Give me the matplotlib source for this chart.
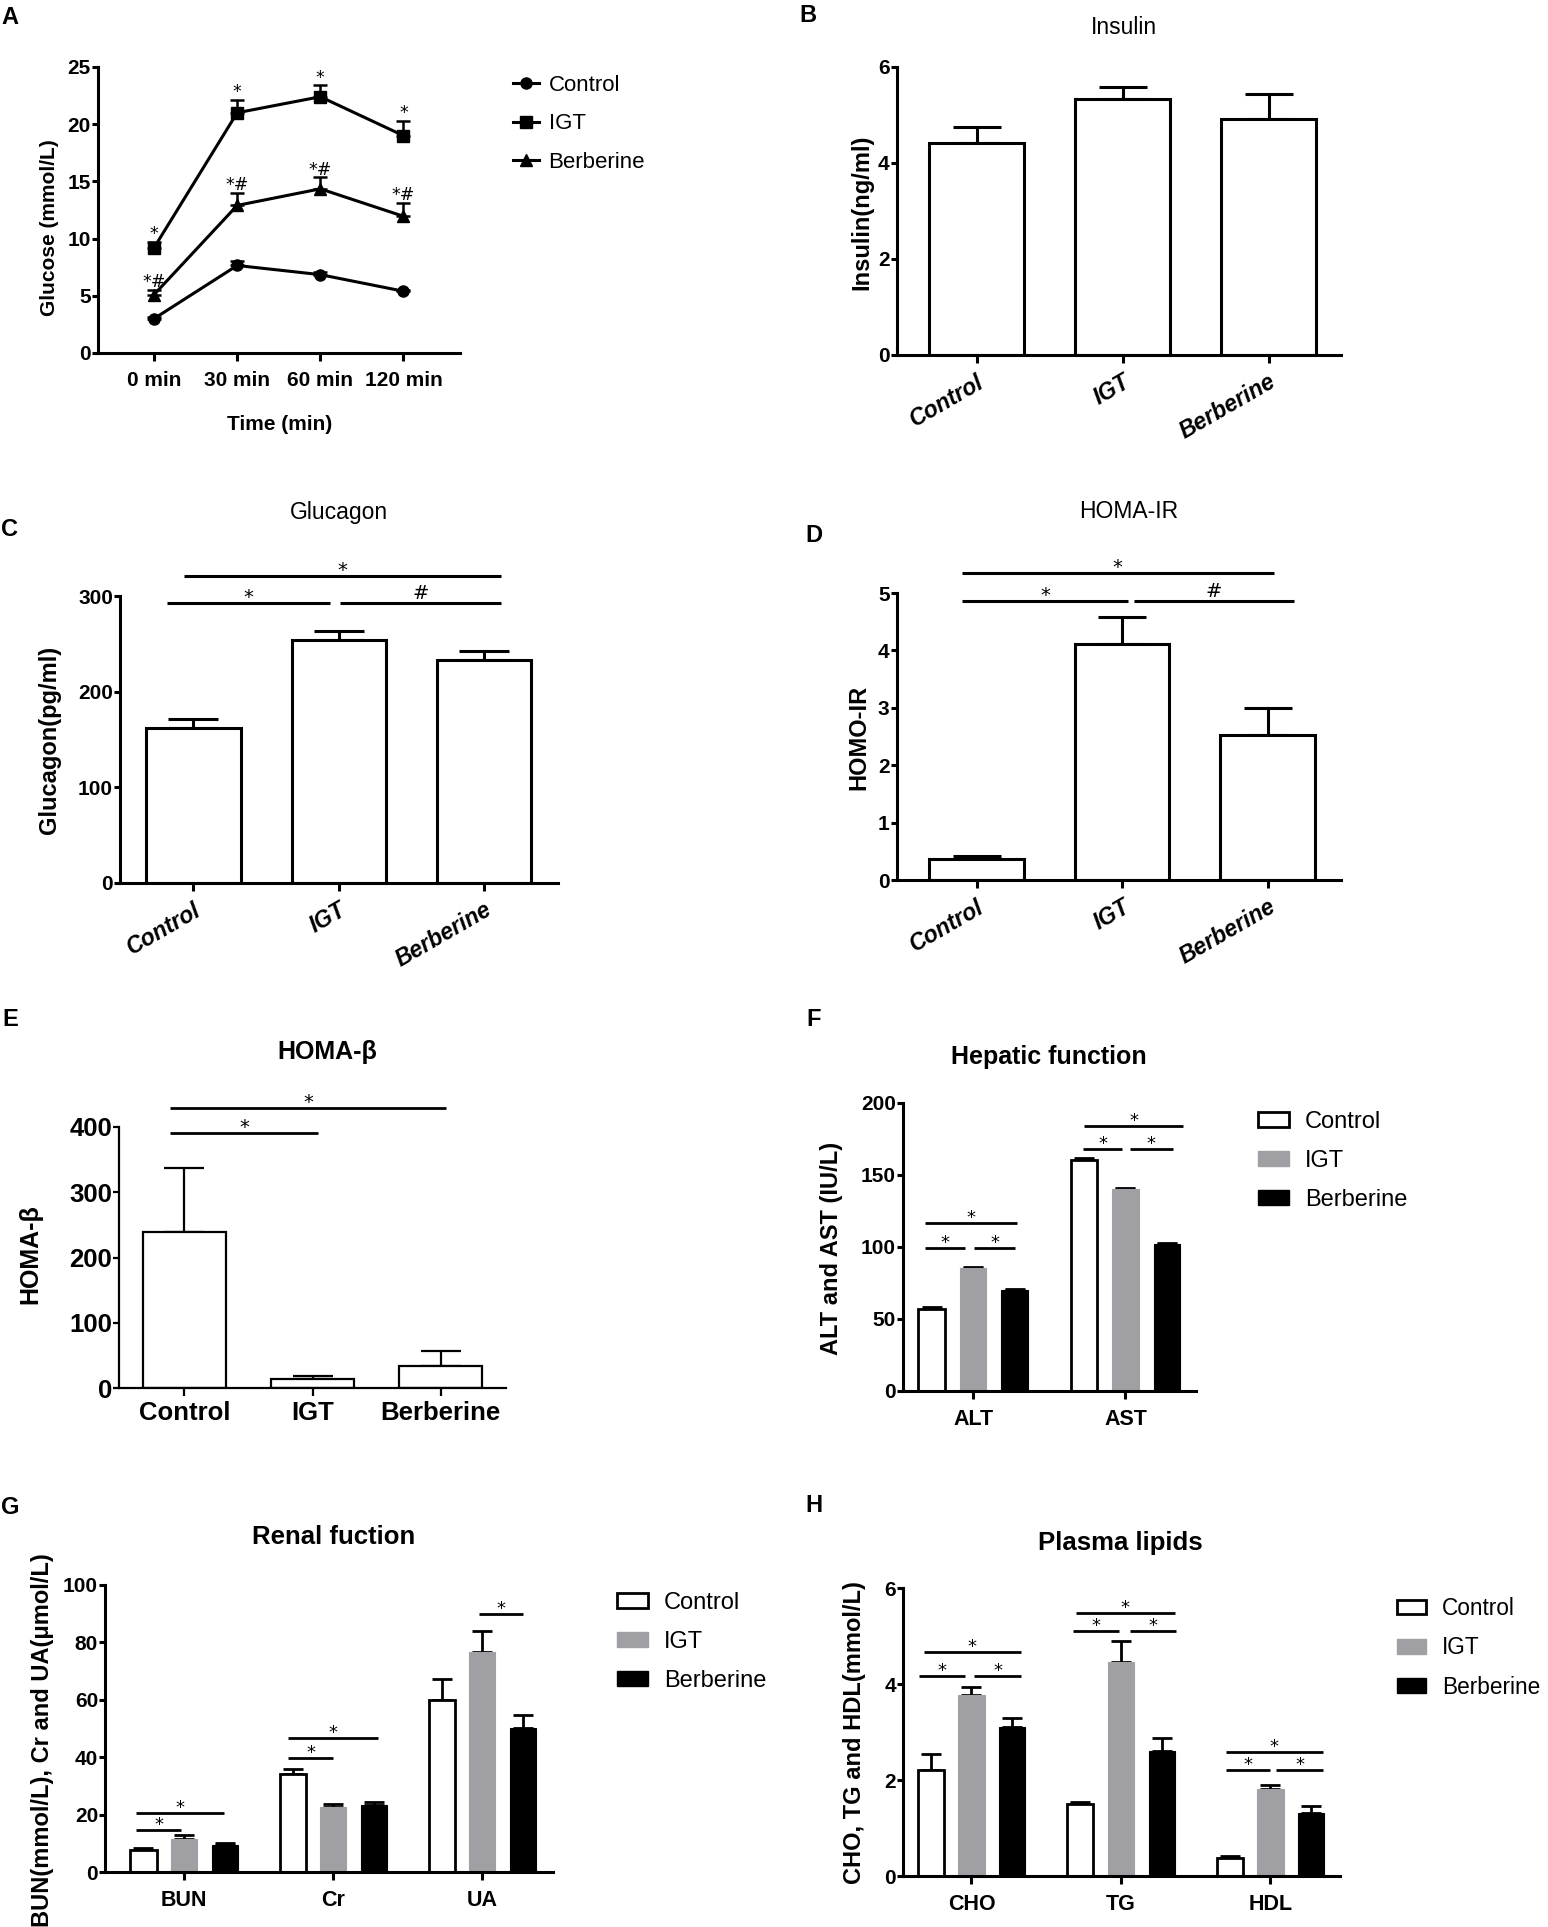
import numpy as np
import matplotlib
matplotlib.use("Agg")
import matplotlib.pyplot as plt
from matplotlib.lines import Line2D
from matplotlib.patches import Patch

plt.rcParams['font.family'] = ['Liberation Sans', 'DejaVu Sans']

# ---------------- data ----------------
groups = ["Control", "IGT", "Berberine"]

time_labels = ["0 min", "30 min", "60 min", "120 min"]
glucose_control = [3.0, 7.65, 6.85, 5.4]
glucose_control_err = [0.15, 0.4, 0.2, 0.15]
glucose_igt = [9.2, 21.0, 22.4, 19.0]
glucose_igt_err = [0.5, 1.1, 1.0, 1.3]
glucose_berb = [5.1, 12.9, 14.35, 11.95]
glucose_berb_err = [0.45, 1.1, 1.0, 1.15]

insulin = [4.42, 5.34, 4.91]
insulin_err = [0.32, 0.24, 0.52]

glucagon = [162.5, 253.6, 233.0]
glucagon_err = [9.1, 9.4, 9.8]

homa_ir = [0.36, 4.12, 2.53]
homa_ir_err = [0.06, 0.46, 0.46]

homa_beta = [239.5, 14.3, 33.6]
homa_beta_err = [97.8, 4.6, 23.4]

hep_labels = ["ALT", "AST"]
hep_control = [57.0, 160.1]
hep_control_err = [1.6, 1.6]
hep_igt = [85.3, 140.2]
hep_igt_err = [1.1, 0.9]
hep_berb = [69.8, 102.0]
hep_berb_err = [0.9, 0.7]

renal_labels = ["BUN", "Cr", "UA"]
renal_control = [7.8, 34.1, 59.9]
renal_control_err = [0.6, 1.7, 7.4]
renal_igt = [11.4, 22.7, 76.5]
renal_igt_err = [1.4, 1.1, 7.6]
renal_berb = [9.3, 23.5, 50.3]
renal_berb_err = [0.9, 0.9, 4.3]

lipid_labels = ["CHO", "TG", "HDL"]
lipid_control = [2.21, 1.5, 0.38]
lipid_control_err = [0.33, 0.04, 0.04]
lipid_igt = [3.78, 4.46, 1.81]
lipid_igt_err = [0.15, 0.44, 0.09]
lipid_berb = [3.1, 2.61, 1.32]
lipid_berb_err = [0.19, 0.26, 0.13]

GREY = '#a0a0a4'
W, H = 1548, 1927
fig = plt.figure(figsize=(W / 100, H / 100), dpi=100)


def axpx(l, t, r, b):
    return fig.add_axes([l / W, 1 - b / H, (r - l) / W, (b - t) / H])


def ftext(x, y, s, **kw):
    fig.text(x / W, 1 - y / H, s, **kw)


def style(ax, lw=2.2, ylen=4, xlen=6, ysize=15, xsize=15, xpad=8,
          xstyle='normal', xrot=0):
    for s in ['top', 'right']:
        ax.spines[s].set_visible(False)
    for s in ['left', 'bottom']:
        ax.spines[s].set_linewidth(lw)
    ax.tick_params(axis='both', width=lw, direction='out', color='k')
    ax.tick_params(axis='y', length=ylen, pad=1, labelsize=ysize)
    ax.tick_params(axis='x', length=xlen, pad=xpad, labelsize=xsize)
    for lab in ax.get_yticklabels():
        lab.set_fontweight('bold')
    for lab in ax.get_xticklabels():
        lab.set_fontweight('bold')
        lab.set_fontstyle(xstyle)
        if xrot:
            lab.set_rotation(xrot)
            lab.set_ha('right')
            lab.set_va('top')
            lab.set_rotation_mode('anchor')


def sig(ax, x1, x2, y, label, lw=2.2, size=14, off=0):
    ax.plot([x1, x2], [y, y], color='k', lw=lw, solid_capstyle='butt', clip_on=False)
    o = off if label == '*' else off + 3
    ax.annotate(label, xy=((x1 + x2) / 2, y), xytext=(0, o), textcoords='offset points',
                ha='center', va='baseline', fontsize=size, family='DejaVu Sans',
                annotation_clip=False)


def bar_panel(ax, values, errs, width=0.65, lw=2.2, capsize=17):
    x = np.arange(len(values))
    ax.bar(x, values, width, color='white', edgecolor='k', linewidth=lw, zorder=2)
    ax.errorbar(x, values, yerr=[np.zeros(len(values)), errs], fmt='none', ecolor='k',
                elinewidth=lw, capsize=capsize, capthick=lw, zorder=1)
    return x


def grouped(ax, cats, series, errs, lw=2.0):
    x = np.arange(len(cats))
    off = 0.272
    wdt = 0.175
    cols = ['white', GREY, 'k']
    edges = ['k', GREY, 'k']
    for i, (vals, er) in enumerate(zip(series, errs)):
        xi = x + (i - 1) * off
        ax.bar(xi, vals, wdt, color=cols[i], edgecolor=edges[i],
               linewidth=lw if i == 0 else 0.8, zorder=2)
        ax.errorbar(xi, vals, yerr=[np.zeros(len(vals)), er], fmt='none', ecolor='k',
                    elinewidth=lw, capsize=7, capthick=lw, zorder=1)
    ax.set_xticks(x, cats)
    return x


def patch_legend(x, y, fs=17):
    handles = [Patch(facecolor='white', edgecolor='k', linewidth=2.0),
               Patch(facecolor=GREY, edgecolor=GREY),
               Patch(facecolor='k', edgecolor='k')]
    fig.legend(handles, groups, loc='upper left', bbox_to_anchor=(x / W, 1 - y / H),
               frameon=False, fontsize=fs, handlelength=1.3, handleheight=0.62,
               handletextpad=0.7, labelspacing=0.72, borderaxespad=0, borderpad=0)


# ---------------- A ----------------
ax = axpx(97.5, 67, 460, 353)
xt = np.arange(len(time_labels))
series = [(glucose_control, glucose_control_err, 'o'),
          (glucose_igt, glucose_igt_err, 's'),
          (glucose_berb, glucose_berb_err, '^')]
for vals, er, mk in series:
    ax.errorbar(xt, vals, yerr=[np.zeros(len(vals)), er], fmt='-' + mk, color='k', lw=2.2,
                ms=8, capsize=5, elinewidth=1.8, capthick=1.8)
for xi, v, e in zip(xt, glucose_igt, glucose_igt_err):
    ax.annotate('*', xy=(xi, v + e), xytext=(0, 2), textcoords='offset points', ha='center',
                va='baseline', fontsize=12.5, family='DejaVu Sans', annotation_clip=False)
for xi, v, e in zip(xt, glucose_berb, glucose_berb_err):
    ax.annotate('*#', xy=(xi, v + e), xytext=(0, 2), textcoords='offset points', ha='center',
                va='baseline', fontsize=12.5, family='DejaVu Sans', annotation_clip=False)
ax.set_xlim(-0.68, 3.68)
ax.set_ylim(0, 25)
ax.set_yticks([0, 5, 10, 15, 20, 25])
ax.set_xticks(xt, time_labels)
style(ax, xsize=15, ysize=15, xpad=7)
ftext(280, 425, 'Time (min)', ha='center', va='center', fontsize=15, fontweight='bold')
ftext(50, 228, 'Glucose (mmol/L)', ha='center', va='center', rotation=90, fontsize=15,
      fontweight='bold')
hA = [Line2D([], [], color='k', marker=m, lw=2.2, ms=8) for m in ['o', 's', '^']]
fig.legend(hA, groups, loc='upper left', bbox_to_anchor=(513 / W, 1 - 75 / H), frameon=False,
           fontsize=16, handlelength=1.15, handletextpad=0.45, labelspacing=0.78,
           borderaxespad=0, borderpad=0)
ftext(10, 17, 'A', ha='center', va='center', fontsize=17, fontweight='bold')

# ---------------- B ----------------
ax = axpx(896.5, 67, 1341.5, 355)
x = bar_panel(ax, insulin, insulin_err, capsize=17.5)
ax.set_xlim(-0.55, 2.5)
ax.set_ylim(0, 6)
ax.set_yticks([0, 2, 4, 6])
ax.set_xticks(x, groups)
style(ax, xsize=16.5, xpad=5, xstyle='italic', xrot=30)
ftext(1124, 27, 'Insulin', ha='center', va='center', fontsize=16.5)
ftext(861.5, 212, 'Insulin(ng/ml)', ha='center', va='center', rotation=90, fontsize=17,
      fontweight='bold')
ftext(808, 15, 'B', ha='center', va='center', fontsize=17, fontweight='bold')

# ---------------- C ----------------
ax = axpx(120, 596, 557.5, 883)
x = bar_panel(ax, glucagon, glucagon_err, capsize=18)
ax.set_xlim(-0.506, 2.506)
ax.set_ylim(0, 300)
ax.set_yticks([0, 100, 200, 300])
ax.set_xticks(x, groups)
style(ax, xsize=16.5, xpad=5, xstyle='italic', xrot=30)
sig(ax, -0.18, 0.94, 293, '*')
sig(ax, 1.01, 2.12, 293, '#')
sig(ax, -0.065, 2.12, 321, '*')
ftext(338.5, 512, 'Glucagon', ha='center', va='center', fontsize=16.5)
ftext(50, 740, 'Glucagon(pg/ml)', ha='center', va='center', rotation=90, fontsize=17,
      fontweight='bold')
ftext(10, 530, 'C', ha='center', va='center', fontsize=17, fontweight='bold')

# ---------------- D ----------------
ax = axpx(896.5, 593, 1340.5, 880)
x = bar_panel(ax, homa_ir, homa_ir_err, capsize=17)
ax.set_xlim(-0.55, 2.5)
ax.set_ylim(0, 5)
ax.set_yticks([0, 1, 2, 3, 4, 5])
ax.set_xticks(x, groups)
style(ax, xsize=16.5, xpad=5, xstyle='italic', xrot=30)
sig(ax, -0.1, 1.04, 4.86, '*')
sig(ax, 1.08, 2.18, 4.86, '#')
sig(ax, -0.1, 2.04, 5.35, '*')
ftext(1129, 511, 'HOMA-IR', ha='center', va='center', fontsize=16.5)
ftext(859, 737, 'HOMO-IR', ha='center', va='center', rotation=90, fontsize=17,
      fontweight='bold')
ftext(814, 535, 'D', ha='center', va='center', fontsize=17, fontweight='bold')

# ---------------- E ----------------
ax = axpx(119, 1127, 506, 1388)
x = bar_panel(ax, homa_beta, homa_beta_err, lw=1.6, capsize=14.5)
ax.set_xlim(-0.51, 2.51)
ax.set_ylim(0, 400)
ax.set_yticks([0, 100, 200, 300, 400])
ax.set_xticks(x, groups)
style(ax, lw=1.6, ysize=18.5, xsize=18.5, xpad=3)
sig(ax, -0.11, 1.04, 390.8, '*', lw=2.0)
sig(ax, -0.11, 2.04, 429.6, '*', lw=2.0)
ftext(327.5, 1052, 'HOMA-β', ha='center', va='center', fontsize=18, fontweight='bold')
ftext(30, 1254, 'HOMA-β', ha='center', va='center', rotation=90, fontsize=18,
      fontweight='bold')
ftext(10, 1020, 'E', ha='center', va='center', fontsize=17, fontweight='bold')

# ---------------- F ----------------
ax = axpx(903, 1103, 1195.5, 1391)
x = grouped(ax, hep_labels, [hep_control, hep_igt, hep_berb],
            [hep_control_err, hep_igt_err, hep_berb_err])
ax.set_xlim(-0.46, 1.46)
ax.set_ylim(0, 200)
ax.set_yticks([0, 50, 100, 150, 200])
style(ax, xsize=15.5, ysize=15, xpad=7)
sig(ax, -0.315, -0.05, 99.65, '*', lw=2.0, size=13)
sig(ax, 0.007, 0.275, 99.65, '*', lw=2.0, size=13)
sig(ax, -0.315, 0.29, 116.6, '*', lw=2.0, size=13)
sig(ax, 1 - 0.28, 1 - 0.02, 168.2, '*', lw=2.0, size=13)
sig(ax, 1 + 0.03, 1 + 0.31, 168.2, '*', lw=2.0, size=13)
sig(ax, 1 - 0.27, 1 + 0.38, 183.8, '*', lw=2.0, size=13)
patch_legend(1258, 1111)
ftext(1049, 1057, 'Hepatic function', ha='center', va='center', fontsize=18, fontweight='bold')
ftext(831.5, 1248, 'ALT and AST (IU/L)', ha='center', va='center', rotation=90, fontsize=17,
      fontweight='bold')
ftext(814, 1020, 'F', ha='center', va='center', fontsize=17, fontweight='bold')

# ---------------- G ----------------
ax = axpx(105, 1585, 552.5, 1872)
x = grouped(ax, renal_labels, [renal_control, renal_igt, renal_berb],
            [renal_control_err, renal_igt_err, renal_berb_err])
ax.set_xlim(-0.53, 2.47)
ax.set_ylim(0, 100)
ax.set_yticks([0, 20, 40, 60, 80, 100])
style(ax, xsize=15.5, ysize=15, xpad=7)
sig(ax, -0.32, -0.02, 14.5, '*', lw=2.0, size=13)
sig(ax, -0.32, 0.27, 20.6, '*', lw=2.0, size=13)
sig(ax, 1 - 0.30, 1.0, 39.8, '*', lw=2.0, size=13)
sig(ax, 1 - 0.30, 1 + 0.30, 46.7, '*', lw=2.0, size=13)
sig(ax, 2 - 0.02, 2 + 0.27, 89.9, '*', lw=2.0, size=13)
patch_legend(617, 1592)
ftext(333.5, 1537, 'Renal fuction', ha='center', va='center', fontsize=18.5, fontweight='bold')
ftext(42.5, 1740, 'BUN(mmol/L), Cr and UA(μmol/L)', ha='center', va='center', rotation=90,
      fontsize=17, fontweight='bold')
ftext(10, 1507, 'G', ha='center', va='center', fontsize=17, fontweight='bold')

# ---------------- H ----------------
ax = axpx(903, 1588, 1340, 1876)
x = grouped(ax, lipid_labels, [lipid_control, lipid_igt, lipid_berb],
            [lipid_control_err, lipid_igt_err, lipid_berb_err])
ax.set_xlim(-0.458, 2.465)
ax.set_ylim(0, 6)
ax.set_yticks([0, 2, 4, 6])
style(ax, xsize=15.5, ysize=15, xpad=7)
sig(ax, -0.35, -0.04, 4.17, '*', lw=2.0, size=13)
sig(ax, 0.02, 0.33, 4.17, '*', lw=2.0, size=13)
sig(ax, -0.32, 0.33, 4.66, '*', lw=2.0, size=13)
sig(ax, 1 - 0.32, 1 - 0.01, 5.1, '*', lw=2.0, size=13)
sig(ax, 1 + 0.06, 1 + 0.37, 5.1, '*', lw=2.0, size=13)
sig(ax, 1 - 0.30, 1 + 0.36, 5.48, '*', lw=2.0, size=13)
sig(ax, 2 - 0.30, 2.0, 2.21, '*', lw=2.0, size=13)
sig(ax, 2 + 0.04, 2 + 0.35, 2.21, '*', lw=2.0, size=13)
sig(ax, 2 - 0.30, 2 + 0.35, 2.59, '*', lw=2.0, size=13)
patch_legend(1397, 1597, fs=16.3)
ftext(1120.5, 1543, 'Plasma lipids', ha='center', va='center', fontsize=18.5, fontweight='bold')
ftext(854, 1733, 'CHO, TG and HDL(mmol/L)', ha='center', va='center', rotation=90,
      fontsize=17, fontweight='bold')
ftext(814, 1505, 'H', ha='center', va='center', fontsize=17, fontweight='bold')

fig.savefig('out.png', dpi=100, facecolor='white')
